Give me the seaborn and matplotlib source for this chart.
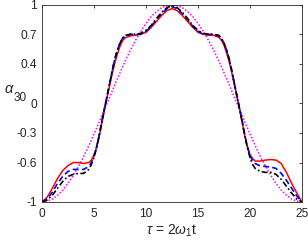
import numpy as np
import pandas as pd
import seaborn as sns
import matplotlib
matplotlib.use("Agg")
import matplotlib.pyplot as plt

# ---- data ----
T = [0, 0.5, 1, 1.5, 2, 2.5, 3, 3.5, 4, 4.5, 4.75, 5, 5.25, 5.5, 5.75, 6, 6.25, 6.5, 6.75,
     7, 7.25, 7.5, 7.75, 8, 8.5, 9, 9.5, 10, 10.5, 11, 11.5, 12, 12.5,
     13, 13.5, 14, 14.5, 15, 15.5, 16, 16.5, 17, 17.25, 17.5, 17.75, 18, 18.25, 18.5, 18.75,
     19, 19.25, 19.5, 19.75, 20, 20.25, 20.5, 21, 21.5, 22, 22.5, 23, 23.5, 24, 24.5, 25]

red = [-1, -0.95, -0.86, -0.76, -0.68, -0.63, -0.60, -0.60, -0.61, -0.60, -0.575, -0.525, -0.445, -0.335, -0.20, -0.07, 0.06, 0.18, 0.30,
       0.41, 0.50, 0.58, 0.635, 0.665, 0.685, 0.69, 0.70, 0.72, 0.77, 0.83, 0.89, 0.94, 0.96,
       0.94, 0.89, 0.83, 0.77, 0.72, 0.70, 0.69, 0.69, 0.67, 0.64, 0.59, 0.51, 0.42, 0.31, 0.19, 0.07,
       -0.06, -0.19, -0.33, -0.44, -0.52, -0.56, -0.585, -0.585, -0.575, -0.57, -0.575, -0.61, -0.70, -0.81, -0.91, -1]

blue = [-1, -0.97, -0.90, -0.81, -0.74, -0.69, -0.67, -0.67, -0.67, -0.64, -0.60, -0.53, -0.44, -0.32, -0.18, -0.05, 0.07, 0.20, 0.33,
        0.45, 0.54, 0.61, 0.66, 0.68, 0.70, 0.70, 0.70, 0.73, 0.78, 0.85, 0.91, 0.96, 0.98,
        0.96, 0.91, 0.85, 0.78, 0.73, 0.70, 0.70, 0.70, 0.68, 0.66, 0.61, 0.54, 0.45, 0.33, 0.20, 0.07,
        -0.05, -0.18, -0.32, -0.44, -0.53, -0.58, -0.61, -0.635, -0.64, -0.645, -0.66, -0.71, -0.78, -0.86, -0.94, -1]

black = [-1, -0.98, -0.93, -0.86, -0.79, -0.74, -0.72, -0.71, -0.71, -0.67, -0.62, -0.55, -0.45, -0.33, -0.19, -0.06, 0.07, 0.20, 0.33,
         0.45, 0.54, 0.61, 0.66, 0.69, 0.70, 0.70, 0.71, 0.74, 0.79, 0.86, 0.92, 0.97, 0.99,
         0.97, 0.92, 0.86, 0.79, 0.74, 0.71, 0.70, 0.70, 0.69, 0.66, 0.61, 0.54, 0.45, 0.33, 0.20, 0.07,
         -0.06, -0.19, -0.33, -0.45, -0.55, -0.62, -0.66, -0.69, -0.70, -0.70, -0.72, -0.77, -0.84, -0.91, -0.97, -1]

T_mag = [0, 0.5, 1, 1.5, 2, 2.5, 3, 3.5, 4, 4.5, 5, 5.5, 6, 6.5, 7, 7.5, 8, 8.5, 9, 9.5, 10, 10.5, 11, 11.5, 12, 12.5,
         13, 13.5, 14, 14.5, 15, 15.5, 16, 16.5, 17, 17.5, 18, 18.5, 19, 19.5, 20, 20.5, 21, 21.5, 22, 22.5, 23, 23.5, 24, 24.5, 25]
magenta = [-1, -0.99, -0.97, -0.93, -0.88, -0.81, -0.73, -0.64, -0.54, -0.43, -0.31, -0.19, -0.06, 0.06, 0.19, 0.31, 0.43, 0.54, 0.64, 0.73, 0.81, 0.88, 0.93, 0.97, 0.99, 1.0,
           0.99, 0.97, 0.93, 0.88, 0.81, 0.73, 0.64, 0.54, 0.43, 0.31, 0.19, 0.06, -0.06, -0.19, -0.31, -0.43, -0.54, -0.64, -0.73, -0.81, -0.88, -0.93, -0.97, -0.99, -1]

xticks = [0, 5, 10, 15, 20, 25]
yticks = [-1, -0.6, -0.3, 0, 0.4, 0.7, 1]
yticklabels = ['-1', '-0.6', '-0.3', '0', '0.4', '0.7', '1']

# ---- plotting ----
sns.set_style("white")
plt.rcParams['font.family'] = ['Liberation Sans', 'DejaVu Sans']
plt.rcParams['mathtext.fontset'] = 'custom'
plt.rcParams['mathtext.rm'] = 'Liberation Sans'
plt.rcParams['mathtext.it'] = 'Liberation Sans:italic'

fig = plt.figure(figsize=(3.08, 2.45), dpi=100)
ax = fig.add_axes([42/308, 1-202/245, (302-42)/308, (202-4.7)/245])

sns.lineplot(x=T_mag, y=magenta, ax=ax, color='#FF00FF', lw=1.1, linestyle=(0, (1, 1.2)), estimator=None)
sns.lineplot(x=T, y=red, ax=ax, color='#FF0000', lw=1.1, estimator=None)
sns.lineplot(x=T, y=blue, ax=ax, color='#0000FF', lw=1.2, linestyle=(0, (3.5, 2)), estimator=None)
sns.lineplot(x=T, y=black, ax=ax, color='#000000', lw=1.2, linestyle=(0, (3.5, 1.5, 1, 1.5)), estimator=None)

ax.set_xlim(0, 25)
ax.set_ylim(-1, 1)
ax.set_xticks(xticks)
ax.set_xticklabels([str(v) for v in xticks])
ax.set_yticks(yticks)
ax.set_yticklabels(yticklabels)

for s in ax.spines.values():
    s.set_visible(True)
    s.set_color('#262626')
    s.set_linewidth(0.6)
ax.tick_params(direction='in', top=True, right=True, length=2.5, width=0.6,
               colors='#262626', labelsize=8.6, pad=3.5)
ax.tick_params(axis='x', pad=4.5)

ax.set_xlabel(r'$\tau$ = 2$\omega_1$t', fontsize=10, color='#262626', labelpad=2)
fig.text(4/308, 1-89/245, r'$\alpha$', fontsize=10.5, color='#262626', ha='left', va='center')
fig.text(13.5/308, 1-98/245, '30', fontsize=8.5, color='#262626', ha='left', va='center')

fig.savefig('out.png', dpi=100)
